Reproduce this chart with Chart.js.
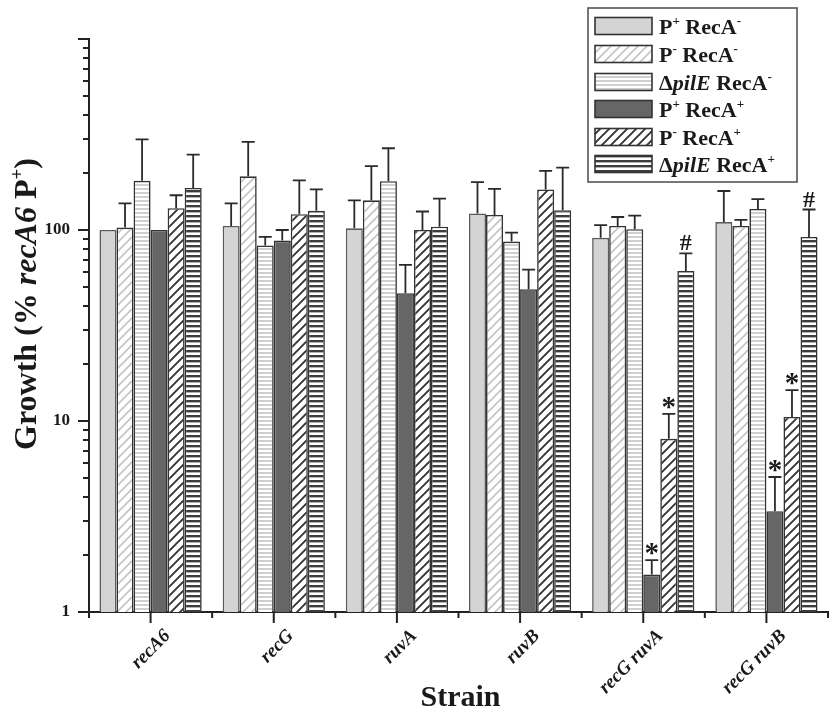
<!DOCTYPE html>
<html><head><meta charset="utf-8">
<script src="https://cdn.jsdelivr.net/npm/chart.js@4.4.1/dist/chart.umd.min.js"></script>
<style>html,body{margin:0;padding:0;background:#fff;}canvas{display:block;}</style>
</head><body>
<canvas id="c" width="829" height="710"></canvas>
<script>
// ---------- DATA ----------
const categories = ['recA6', 'recG', 'ruvA', 'ruvB', 'recG ruvA', 'recG ruvB'];
const seriesNames = ['P+ RecA-', 'P- RecA-', 'ΔpilE RecA-', 'P+ RecA+', 'P- RecA+', 'ΔpilE RecA+'];

const pPlusRecAMinus   = [100, 105, 102, 122, 91, 110];
const pMinusRecAMinus  = [103, 191, 143, 120, 105, 105];
const dPilERecAMinus   = [181, 83, 180, 87, 101, 129];
const pPlusRecAPlus    = [100, 88, 46.7, 49, 1.57, 3.37];
const pMinusRecAPlus   = [130, 121, 100, 163, 8.07, 10.5];
const dPilERecAPlus    = [166, 126, 104, 127, 61, 92];

// upper ends of error bars (null = none)
const errPPlusRecAMinus  = [null, 138, 143, 178, 106, 160];
const errPMinusRecAMinus = [138, 289, 216, 164, 117, 113];
const errDPilERecAMinus  = [298, 92, 268, 97, 119, 145];
const errPPlusRecAPlus   = [null, 100, 65.6, 62, 1.87, 5.09];
const errPMinusRecAPlus  = [152, 182, 125, 204, 10.9, 14.5];
const errDPilERecAPlus   = [248, 163, 146, 212, 75.5, 128];

// significance markers
const markPPlusRecAPlus  = [null, null, null, null, '*', '*'];
const markPMinusRecAPlus = [null, null, null, null, '*', '*'];
const markDPilERecAPlus  = [null, null, null, null, '#', '#'];

const yTickValues = [1, 10, 100, 1000];
const yTickLabels = ['1', '10', '100', ''];
const yTitle = 'Growth (% recA6 P+)';
const xTitle = 'Strain';

// ---------- STYLE ----------
const SERIF = '"Liberation Serif", "Times New Roman", serif';
const INK = '#1a1a1a';

function makePattern(kind) {
  const c = document.createElement('canvas');
  const g = c.getContext('2d');
  if (kind === 'diagLight' || kind === 'diagDark') {
    const s = 9;
    c.width = s; c.height = s;
    g.fillStyle = '#fff'; g.fillRect(0, 0, s, s);
    g.strokeStyle = kind === 'diagLight' ? '#c4c4c4' : '#333';
    g.lineWidth = kind === 'diagLight' ? 1.6 : 1.9;
    g.beginPath();
    g.moveTo(-1, s + 1); g.lineTo(s + 1, -1);
    g.moveTo(-3, 3); g.lineTo(3, -3);
    g.moveTo(s - 3, s + 3); g.lineTo(s + 3, s - 3);
    g.stroke();
  } else {
    const h = kind === 'horLight' ? 4 : 5;
    c.width = 4; c.height = h;
    g.fillStyle = '#fff'; g.fillRect(0, 0, 4, h);
    g.fillStyle = kind === 'horLight' ? '#cfcfcf' : '#3c3c3c';
    g.fillRect(0, 0, 4, kind === 'horLight' ? 2 : 2.4);
  }
  return g.createPattern(c, 'repeat');
}
const fills = [
  '#d4d4d4',
  makePattern('diagLight'),
  makePattern('horLight'),
  '#666666',
  makePattern('diagDark'),
  makePattern('horDark')
];
const borders = ['#5a5a5a', '#333', '#333', '#333', '#333', '#333'];

const seriesValues = [pPlusRecAMinus, pMinusRecAMinus, dPilERecAMinus, pPlusRecAPlus, pMinusRecAPlus, dPilERecAPlus];
const seriesErr = [errPPlusRecAMinus, errPMinusRecAMinus, errDPilERecAMinus, errPPlusRecAPlus, errPMinusRecAPlus, errDPilERecAPlus];
const seriesMarks = [null, null, null, markPPlusRecAPlus, markPMinusRecAPlus, markDPilERecAPlus];

// ---------- helpers for rich text ----------
function runsForName(name) {
  const [pre, post] = name.split(' ');
  const runs = [];
  if (pre.startsWith('Δ')) {
    runs.push({ t: 'Δ' }); runs.push({ t: pre.slice(1), it: true });
  } else {
    runs.push({ t: pre[0] }); runs.push({ t: pre.slice(1), sup: true });
  }
  runs.push({ t: ' ' + post.slice(0, -1) });
  runs.push({ t: post.slice(-1), sup: true });
  return runs;
}
function runFont(r, size) {
  const s = r.sup ? Math.round(size * 0.6) : size;
  return (r.it ? 'italic ' : '') + 'bold ' + s + 'px ' + SERIF;
}
function measureRuns(ctx, runs, size) {
  let w = 0;
  runs.forEach(r => { ctx.font = runFont(r, size); w += ctx.measureText(r.t).width; });
  return w;
}
function drawRuns(ctx, runs, x, y, size) {
  runs.forEach(r => {
    ctx.font = runFont(r, size);
    ctx.fillText(r.t, x, r.sup ? y - size * 0.4 : y);
    x += ctx.measureText(r.t).width;
  });
}

// ---------- plugin: ticks, error bars, markers, legend, titles ----------
const decorPlugin = {
  id: 'decor',
  afterDatasetsDraw(chart) {
    const ctx = chart.ctx;
    const ys = chart.scales.y;
    ctx.save();
    ctx.strokeStyle = '#2a2a2a';
    ctx.lineWidth = 1.8;
    seriesErr.forEach((errs, i) => {
      const meta = chart.getDatasetMeta(i);
      errs.forEach((e, j) => {
        const bar = meta.data[j];
        let topY = bar.y;
        if (e != null) {
          topY = ys.getPixelForValue(e);
          ctx.beginPath();
          ctx.moveTo(bar.x, bar.y);
          ctx.lineTo(bar.x, topY);
          ctx.moveTo(bar.x - 6.5, topY);
          ctx.lineTo(bar.x + 6.5, topY);
          ctx.stroke();
        }
        const marks = seriesMarks[i];
        if (marks && marks[j]) {
          ctx.fillStyle = INK;
          ctx.textAlign = 'center';
          ctx.textBaseline = 'alphabetic';
          if (marks[j] === '*') {
            ctx.font = 'bold 29px ' + SERIF;
            ctx.fillText('*', bar.x, topY + 2);
          } else {
            ctx.font = 'bold 24px ' + SERIF;
            ctx.fillText(marks[j], bar.x, topY - 3);
          }
        }
      });
    });
    ctx.restore();
  },
  afterDraw(chart) {
    const ctx = chart.ctx;
    const ys = chart.scales.y, xs = chart.scales.x;
    const area = chart.chartArea;
    ctx.save();
    ctx.strokeStyle = '#222';
    ctx.lineWidth = 2;
    // y ticks (major + log minor)
    ctx.beginPath();
    [1, 10, 100].forEach(d => {
      for (let k = 1; k <= 9; k++) {
        const py = Math.round(ys.getPixelForValue(k * d));
        const len = k === 1 ? 11 : 6;
        ctx.moveTo(area.left, py); ctx.lineTo(area.left - len, py);
      }
    });
    const pTop = ys.getPixelForValue(1000);
    ctx.moveTo(area.left, pTop); ctx.lineTo(area.left - 11, pTop);
    // x ticks
    for (let i = 0; i < categories.length; i++) {
      const px = xs.getPixelForValue(i);
      ctx.moveTo(px, area.bottom); ctx.lineTo(px, area.bottom + 11);
    }
    for (let i = 0; i <= categories.length; i++) {
      const px = xs.getPixelForValue(i - 0.5);
      ctx.moveTo(px, area.bottom); ctx.lineTo(px, area.bottom + 6);
    }
    ctx.stroke();

    // axis titles
    ctx.fillStyle = INK;
    ctx.textBaseline = 'alphabetic';
    ctx.textAlign = 'left';
    ctx.font = 'bold 30px ' + SERIF;
    const xw = ctx.measureText(xTitle).width;
    ctx.fillText(xTitle, (area.left + area.right) / 2 - xw / 2 + 2, 706);

    const yRuns = [
      { t: 'Growth (% ' },
      { t: 'recA6', it: true },
      { t: ' P' },
      { t: '+', sup: true },
      { t: ')' }
    ];
    const ySize = 32;
    const yw = measureRuns(ctx, yRuns, ySize);
    ctx.translate(36, 304);
    ctx.rotate(-Math.PI / 2);
    drawRuns(ctx, yRuns, -yw / 2, 0, ySize);
    ctx.setTransform(1, 0, 0, 1, 0, 0);

    // legend
    const lx = 588, ly = 8, lw = 209, lh = 174;
    ctx.fillStyle = '#fff';
    ctx.fillRect(lx, ly, lw, lh);
    ctx.strokeStyle = '#555';
    ctx.lineWidth = 1.6;
    ctx.strokeRect(lx, ly, lw, lh);
    const rowY = [26, 54, 82, 109, 137, 164];
    seriesNames.forEach((name, i) => {
      const cy = rowY[i];
      ctx.fillStyle = fills[i];
      ctx.fillRect(595, cy - 8.5, 57, 17);
      ctx.strokeStyle = '#333';
      ctx.lineWidth = 1.6;
      ctx.strokeRect(595, cy - 8.5, 57, 17);
      ctx.fillStyle = INK;
      ctx.textAlign = 'left';
      ctx.textBaseline = 'alphabetic';
      drawRuns(ctx, runsForName(name), 659, cy + 8, 22);
    });
    ctx.restore();
  }
};

const datasets = seriesValues.map((vals, i) => ({
  label: seriesNames[i],
  data: vals,
  backgroundColor: fills[i],
  borderColor: borders[i],
  borderWidth: 1.6,
  borderSkipped: 'bottom',
  categoryPercentage: 0.83,
  barPercentage: 1.0
}));

new Chart(document.getElementById('c'), {
  type: 'bar',
  data: { labels: categories, datasets },
  options: {
    responsive: false,
    animation: false,
    devicePixelRatio: 1,
    layout: { padding: { top: 39, right: 1, left: 0, bottom: 0 } },
    plugins: { legend: { display: false }, tooltip: { enabled: false } },
    scales: {
      x: {
        grid: { display: false, drawTicks: false },
        border: { display: true, color: '#222', width: 2 },
        ticks: {
          color: INK,
          font: { family: SERIF, weight: 'bold', style: 'italic', size: 19 },
          minRotation: 45, maxRotation: 45,
          padding: 13, labelOffset: 17, autoSkip: false
        },
        afterFit(s) { s.height = 98; }
      },
      y: {
        type: 'logarithmic',
        min: 1, max: 1000,
        grid: { display: false, drawTicks: false },
        border: { display: true, color: '#222', width: 2 },
        afterBuildTicks(s) { s.ticks = yTickValues.map(v => ({ value: v })); },
        ticks: {
          color: INK,
          font: { family: SERIF, weight: 'bold', size: 17 },
          padding: 19,
          autoSkip: false,
          callback(v) { const k = yTickValues.indexOf(v); return k >= 0 ? yTickLabels[k] : ''; }
        },
        afterFit(s) { s.width = 89; }
      }
    }
  },
  plugins: [decorPlugin]
});
</script>
</body></html>
